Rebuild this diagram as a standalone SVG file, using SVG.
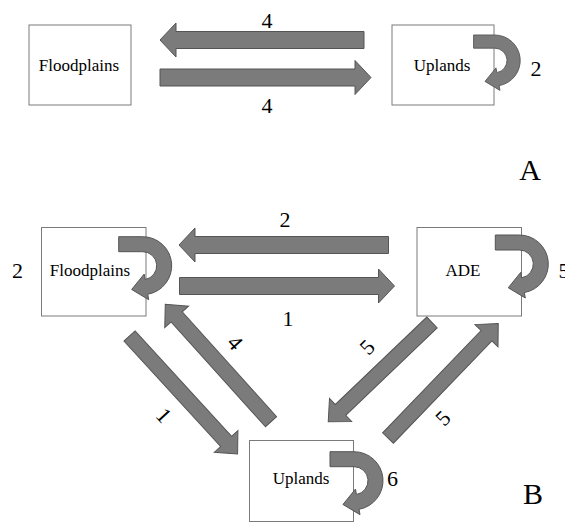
<svg xmlns="http://www.w3.org/2000/svg" xmlns:xlink="http://www.w3.org/1999/xlink" width="565" height="523" viewBox="0 0 565 523">
<style>
.box{fill:#fff;stroke:#7a7a7a;stroke-width:1}
.lbl{font-family:"Liberation Serif","Times New Roman",serif;font-size:17px;fill:#000;text-anchor:middle}
.num{font-family:"Liberation Serif","Times New Roman",serif;font-size:22px;fill:#000;text-anchor:middle}
.big{font-family:"Liberation Serif","Times New Roman",serif;font-size:30px;fill:#000;text-anchor:middle}
.arr{fill:#7b7b7b;stroke:#555;stroke-width:1;stroke-linejoin:miter}
</style>
<defs>
<path id="loop" d="M -24,-29 L 0,-29 A 29,29 0 0 1 5.04,28.56 L 5.99,33.98 L -11.05,23.78 L 1.47,8.37 L 2.43,13.79 A 14,14 0 0 0 0,-14 L -24,-14 Z"/>
</defs>
<rect width="565" height="523" fill="#fff"/>
<g id="panelA-floodplains">
<rect class="box" x="29" y="25" width="102" height="80"/>
<text class="lbl" x="79" y="71">Floodplains</text>
</g>
<g id="panelA-uplands">
<rect class="box" x="392" y="25" width="102" height="80"/>
<text class="lbl" x="442" y="71">Uplands</text>
</g>
<g id="panelB-floodplains">
<rect class="box" x="41.5" y="227.5" width="104.5" height="88.5"/>
<text class="lbl" x="90" y="275.5">Floodplains</text>
</g>
<g id="panelB-ade">
<rect class="box" x="417" y="227.5" width="104.5" height="88.5"/>
<text class="lbl" x="463" y="275.5">ADE</text>
</g>
<g id="panelB-uplands">
<rect class="box" x="249.5" y="440.5" width="104" height="81"/>
<text class="lbl" x="301" y="483.5">Uplands</text>
</g>
<g id="connectors">
<polygon class="arr" points="364,31.5 176,31.5 176,23 160,40 176,57 176,48.5 364,48.5"/>
<polygon class="arr" points="160,69 355,69 355,60.5 371,77.5 355,94.5 355,86 160,86"/>
<use xlink:href="#loop" class="arr" transform="translate(494.7,60.5) scale(0.88)"/>
<polygon class="arr" points="388.5,236.5 195,236.5 195,228 179,245 195,262 195,253.5 388.5,253.5"/>
<polygon class="arr" points="179.5,277.5 378.5,277.5 378.5,269 394.5,286 378.5,303 378.5,294.5 179.5,294.5"/>
<use xlink:href="#loop" class="arr" transform="translate(142.7,265.7)"/>
<use xlink:href="#loop" class="arr" transform="translate(519.3,264)"/>
<use xlink:href="#loop" class="arr" transform="translate(354,480.7)"/>
<polygon class="arr" transform="translate(129.5,336) rotate(47.5)" points="0,-7.5 143,-7.5 143,-16 160,0 143,16 143,7.5 0,7.5"/>
<polygon class="arr" transform="translate(271,421.7) rotate(-132)" points="0,-7.5 141,-7.5 141,-16 158,0 141,16 141,7.5 0,7.5"/>
<polygon class="arr" transform="translate(432,322.5) rotate(136.3)" points="0,-7.5 126.5,-7.5 126.5,-16 143.5,0 126.5,16 126.5,7.5 0,7.5"/>
<polygon class="arr" transform="translate(388,438) rotate(-46.1)" points="0,-7.5 142,-7.5 142,-16 159,0 142,16 142,7.5 0,7.5"/>
</g>
<g id="labels">
<text class="num" x="267" y="28">4</text>
<text class="num" x="267" y="113">4</text>
<text class="num" x="536" y="76">2</text>
<text class="big" x="530" y="180">A</text>
<text class="num" x="17.5" y="278">2</text>
<text class="num" x="285" y="227">2</text>
<text class="num" x="288" y="326">1</text>
<text class="num" x="564" y="278">5</text>
<text class="num" x="392.5" y="486">6</text>
<text class="big" x="533" y="504">B</text>
<text class="num" transform="translate(235,343) rotate(48)" x="0" y="7">4</text>
<text class="num" transform="translate(163.7,415.5) rotate(47.5)" x="0" y="7">1</text>
<text class="num" transform="translate(367.5,347.5) rotate(-45)" x="0" y="7">5</text>
<text class="num" transform="translate(443.3,418.3) rotate(-45)" x="0" y="7">5</text>
</g>
</svg>
